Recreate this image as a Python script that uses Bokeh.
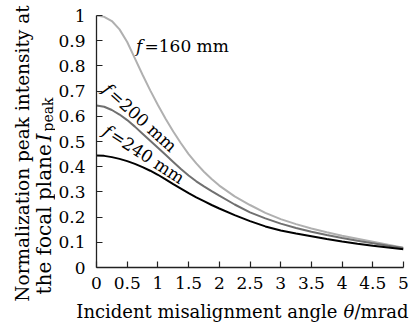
import math
from bokeh.plotting import figure
from bokeh.layouts import row, column
from bokeh.models import Range1d, FixedTicker, CustomJSTickFormatter, Label
from bokeh.embed import file_html
from bokeh.resources import INLINE

theta = [0, 0.125, 0.25, 0.375, 0.5, 0.625, 0.75, 0.875, 1.0, 1.125, 1.25, 1.375,
         1.5, 1.625, 1.75, 1.875, 2.0, 2.25, 2.5, 2.75, 3.0, 3.25, 3.5, 3.75,
         4.0, 4.25, 4.5, 4.75, 5.0]
i_f160 = [1.0, 0.995, 0.978, 0.945, 0.895, 0.83, 0.765, 0.703, 0.645, 0.59, 0.54,
          0.493, 0.45, 0.413, 0.38, 0.351, 0.325, 0.282, 0.248, 0.217, 0.192,
          0.172, 0.155, 0.14, 0.126, 0.114, 0.102, 0.09, 0.078]
i_f200 = [0.643, 0.638, 0.625, 0.607, 0.585, 0.559, 0.531, 0.503, 0.475, 0.447,
          0.419, 0.391, 0.365, 0.342, 0.322, 0.303, 0.285, 0.25, 0.219, 0.195,
          0.174, 0.157, 0.142, 0.129, 0.117, 0.106, 0.096, 0.086, 0.077]
i_f240 = [0.444, 0.443, 0.438, 0.431, 0.422, 0.411, 0.398, 0.384, 0.368, 0.35,
          0.331, 0.313, 0.295, 0.278, 0.263, 0.248, 0.234, 0.208, 0.184, 0.163,
          0.147, 0.135, 0.124, 0.113, 0.103, 0.094, 0.086, 0.079, 0.072]
x_ticks = [0, 0.5, 1, 1.5, 2, 2.5, 3, 3.5, 4, 4.5, 5]
y_ticks = [0, 0.1, 0.2, 0.3, 0.4, 0.5, 0.6, 0.7, 0.8, 0.9, 1]
series_labels = ["=160 mm", "=200 mm", "=240 mm"]

FONT = "DejaVu Serif"

# ---------------- main plot ----------------
p = figure(width=356, height=298, output_backend="svg", toolbar_location=None,
           x_range=Range1d(0, 5), y_range=Range1d(0, 1),
           min_border_left=38, min_border_right=8, min_border_top=15,
           min_border_bottom=31)
p.frame_align = False
p.outline_line_color = None
p.xgrid.visible = False
p.ygrid.visible = False

fmt = CustomJSTickFormatter(code="return tick.toFixed(1).replace(/\\.0$/, '');")
for ax, ticks in ((p.xaxis[0], x_ticks), (p.yaxis[0], y_ticks)):
    ax.ticker = FixedTicker(ticks=ticks)
    ax.formatter = fmt
    ax.major_tick_in = 6
    ax.major_tick_out = 0
    ax.minor_tick_line_color = None
    ax.axis_line_color = "#222222"
    ax.axis_line_width = 1.3
    ax.major_tick_line_color = "#222222"
    ax.major_tick_line_width = 1.2
    ax.major_label_text_font = FONT
    ax.major_label_text_font_size = "17px"
    ax.major_label_text_color = "black"

p.xaxis.major_label_standoff = 9
p.yaxis.major_label_standoff = 11

p.line(theta, i_f160, line_color="#b0b0b0", line_width=2)
p.line(theta, i_f200, line_color="#707070", line_width=2)
p.line(theta, i_f240, line_color="#000000", line_width=2)


def lab(fig, **kw):
    base = dict(text_font=FONT, text_color="black", text_align="left",
                text_baseline="middle", text_font_size="17px")
    base.update(kw)
    fig.add_layout(Label(**base))


PX_X = 310 / 5.0   # pixels per data unit (x)
PX_Y = 252 / 1.0   # pixels per data unit (y)


def curve_label(x, y, angle_deg, rest):
    a = math.radians(angle_deg)
    lab(p, x=x, y=y, text="f", angle=a, text_font_style="italic")
    lab(p, x=x + 8.5 * math.cos(a) / PX_X, y=y + 8.5 * math.sin(a) / PX_Y,
        text=rest, angle=a)


curve_label(0.645, 0.878, 0, series_labels[0])
curve_label(0.145, 0.718, -42, series_labels[1])
curve_label(0.14, 0.55, -33, series_labels[2])

# ---------------- x axis title strip ----------------
xt = figure(width=356, height=26, output_backend="svg", toolbar_location=None,
            x_range=Range1d(0, 356), y_range=Range1d(0, 26),
            x_axis_type=None, y_axis_type=None, min_border=0)
xt.frame_align = False
xt.outline_line_color = None
lab(xt, x=282, y=13, text_font_size="18px", text="Incident misalignment angle",
    text_align="right")
lab(xt, x=288, y=13, text_font_size="18px", text="θ", text_font_style="italic")
lab(xt, x=299, y=13, text_font_size="18px", text="/mrad")

# ---------------- y axis title strip ----------------
yt = figure(width=55, height=324, output_backend="svg", toolbar_location=None,
            x_range=Range1d(0, 55), y_range=Range1d(0, 324),
            x_axis_type=None, y_axis_type=None, min_border=0)
yt.frame_align = False
yt.outline_line_color = None
lab(yt, x=22, y=171, text_font_size="18.5px",
    text="Normalization peak intensity at", angle=math.pi / 2, text_align="center")
lab(yt, x=43, y=30, text_font_size="20px", text="the focal plane", angle=math.pi / 2)
lab(yt, x=43, y=183, text_font_size="20px", text="I", angle=math.pi / 2,
    text_font_style="italic")
lab(yt, x=47, y=193, text_font_size="14px", text="peak", angle=math.pi / 2)

layout = row(yt, column(p, xt, spacing=0), spacing=0)
open("out.html", "w").write(file_html(layout, INLINE))
